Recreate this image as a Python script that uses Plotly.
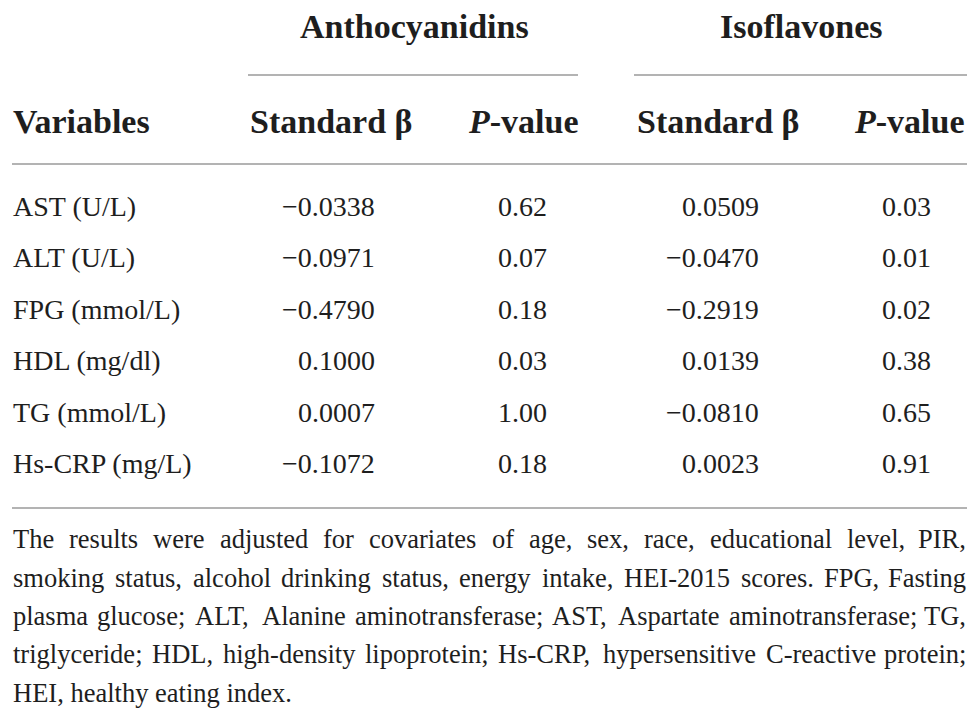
import plotly.graph_objects as go

# ---------------- data ----------------
variables = ["AST (U/L)", "ALT (U/L)", "FPG (mmol/L)", "HDL (mg/dl)", "TG (mmol/L)", "Hs-CRP (mg/L)"]
antho_beta = [-0.0338, -0.0971, -0.4790, 0.1000, 0.0007, -0.1072]
antho_p = [0.62, 0.07, 0.18, 0.03, 1.00, 0.18]
iso_beta = [0.0509, -0.0470, -0.2919, 0.0139, -0.0810, 0.0023]
iso_p = [0.03, 0.01, 0.02, 0.38, 0.65, 0.91]
group_labels = ["Anthocyanidins", "Isoflavones"]
col_labels = ["Variables", "Standard β", "<i>P</i>-value", "Standard β", "<i>P</i>-value"]
footnote_lines = [
    "The results were adjusted for covariates of age, sex, race, educational level, PIR,",
    "smoking status, alcohol drinking status, energy intake, HEI-2015 scores. FPG, Fasting",
    "plasma glucose; ALT, Alanine aminotransferase; AST, Aspartate aminotransferase; TG,",
    "triglyceride; HDL, high-density lipoprotein; Hs-CRP, hypersensitive C-reactive protein;",
    "HEI, healthy eating index.",
]

# ---------------- layout constants ----------------
W, H = 979, 717
PAGE_MARGIN = 8  # default body margin of the html page
FONT = "Liberation Serif"
TXT = "#1e1e1e"
RULE = "#9a9a9a"
LEFT, RIGHT = 12, 967
HEAD_SIZE = 34
BODY_SIZE = 28
NOTE_SIZE = 26.5

# Times/Liberation Serif regular advance widths (1/1000 em)
TW = {' ': 250, ',': 250, '-': 333, '.': 250, ';': 278, '0': 500, '1': 500, '2': 500,
      '5': 500, 'A': 722, 'C': 667, 'D': 722, 'E': 611, 'F': 556, 'G': 722, 'H': 722,
      'I': 333, 'L': 611, 'P': 556, 'R': 667, 'S': 556, 'T': 611,
      'a': 444, 'b': 500, 'c': 444, 'd': 500, 'e': 444, 'f': 333, 'g': 500, 'h': 500,
      'i': 278, 'j': 278, 'k': 500, 'l': 278, 'm': 778, 'n': 500, 'o': 500, 'p': 500,
      'r': 333, 's': 389, 't': 278, 'u': 500, 'v': 500, 'w': 722, 'x': 500, 'y': 500,
      'z': 444}


def tw(s, size):
    return sum(TW.get(c, 500) for c in s) / 1000.0 * size


def center_from_baseline(b, size):
    return b - 0.3375 * size


def fmt(v, nd):
    s = f"{v:.{nd}f}"
    return s.replace("-", "\u2212")


fig = go.Figure()
ann = []
shapes = []

def add_text(x, y, text, size, anchor="left", bold=False):
    ann.append(dict(x=x, y=y, xref="x", yref="y", text=("<b>%s</b>" % text) if bold else text,
                    showarrow=False, xanchor=anchor, yanchor="middle",
                    font=dict(family=FONT, size=size, color=TXT), borderpad=0))

def add_rule(x0, x1, y):
    shapes.append(dict(type="line", xref="x", yref="y", x0=x0, x1=x1, y0=y, y1=y,
                       line=dict(color=RULE, width=1.6)))

# group headers
group_centers = [414, 801]
group_rules = [(248, 578), (634, 967)]
for lab, cx, (r0, r1) in zip(group_labels, group_centers, group_rules):
    add_text(cx, center_from_baseline(38, HEAD_SIZE), lab, HEAD_SIZE, "center", True)
    add_rule(r0, r1, 75)

# column headers
head_x = [LEFT, 413, 580, 800, 966]
head_anchor = ["left", "right", "right", "right", "right"]
for lab, x, a in zip(col_labels, head_x, head_anchor):
    add_text(x, center_from_baseline(133, HEAD_SIZE), lab, HEAD_SIZE, a, True)
add_rule(LEFT, RIGHT, 164)

# body rows
first_base, row_h = 216, 51.4
val_x = [376, 548, 760, 932]
for i, name in enumerate(variables):
    yc = center_from_baseline(first_base + i * row_h, BODY_SIZE)
    add_text(LEFT, yc, name, BODY_SIZE, "left")
    cells = [fmt(antho_beta[i], 4), fmt(antho_p[i], 2), fmt(iso_beta[i], 4), fmt(iso_p[i], 2)]
    for x, c in zip(val_x, cells):
        add_text(x, yc, c, BODY_SIZE, "right")
add_rule(LEFT, RIGHT, 508)

# footnote, justified
note_base, note_h = 548, 38.45
for li, line in enumerate(footnote_lines):
    yc = center_from_baseline(note_base + li * note_h, NOTE_SIZE)
    words = line.split(" ")
    if li == len(footnote_lines) - 1:
        add_text(LEFT, yc, line, NOTE_SIZE, "left")
        continue
    widths = [tw(w, NOTE_SIZE) for w in words]
    gap = (RIGHT - LEFT - sum(widths)) / (len(words) - 1)
    x = LEFT
    for wi, (w, wd) in enumerate(zip(words, widths)):
        if wi == len(words) - 1:
            add_text(RIGHT, yc, w, NOTE_SIZE, "right")
        else:
            add_text(x, yc, w, NOTE_SIZE, "left")
        x += wd + gap

fig.update_layout(
    width=W - PAGE_MARGIN, height=H - PAGE_MARGIN, margin=dict(l=0, r=0, t=0, b=0),
    paper_bgcolor="white", plot_bgcolor="white",
    xaxis=dict(range=[PAGE_MARGIN, W], visible=False, fixedrange=True),
    yaxis=dict(range=[H, PAGE_MARGIN], visible=False, fixedrange=True),
    annotations=ann, shapes=shapes, showlegend=False,
)
fig.write_html("out.html", config={"displayModeBar": False})
